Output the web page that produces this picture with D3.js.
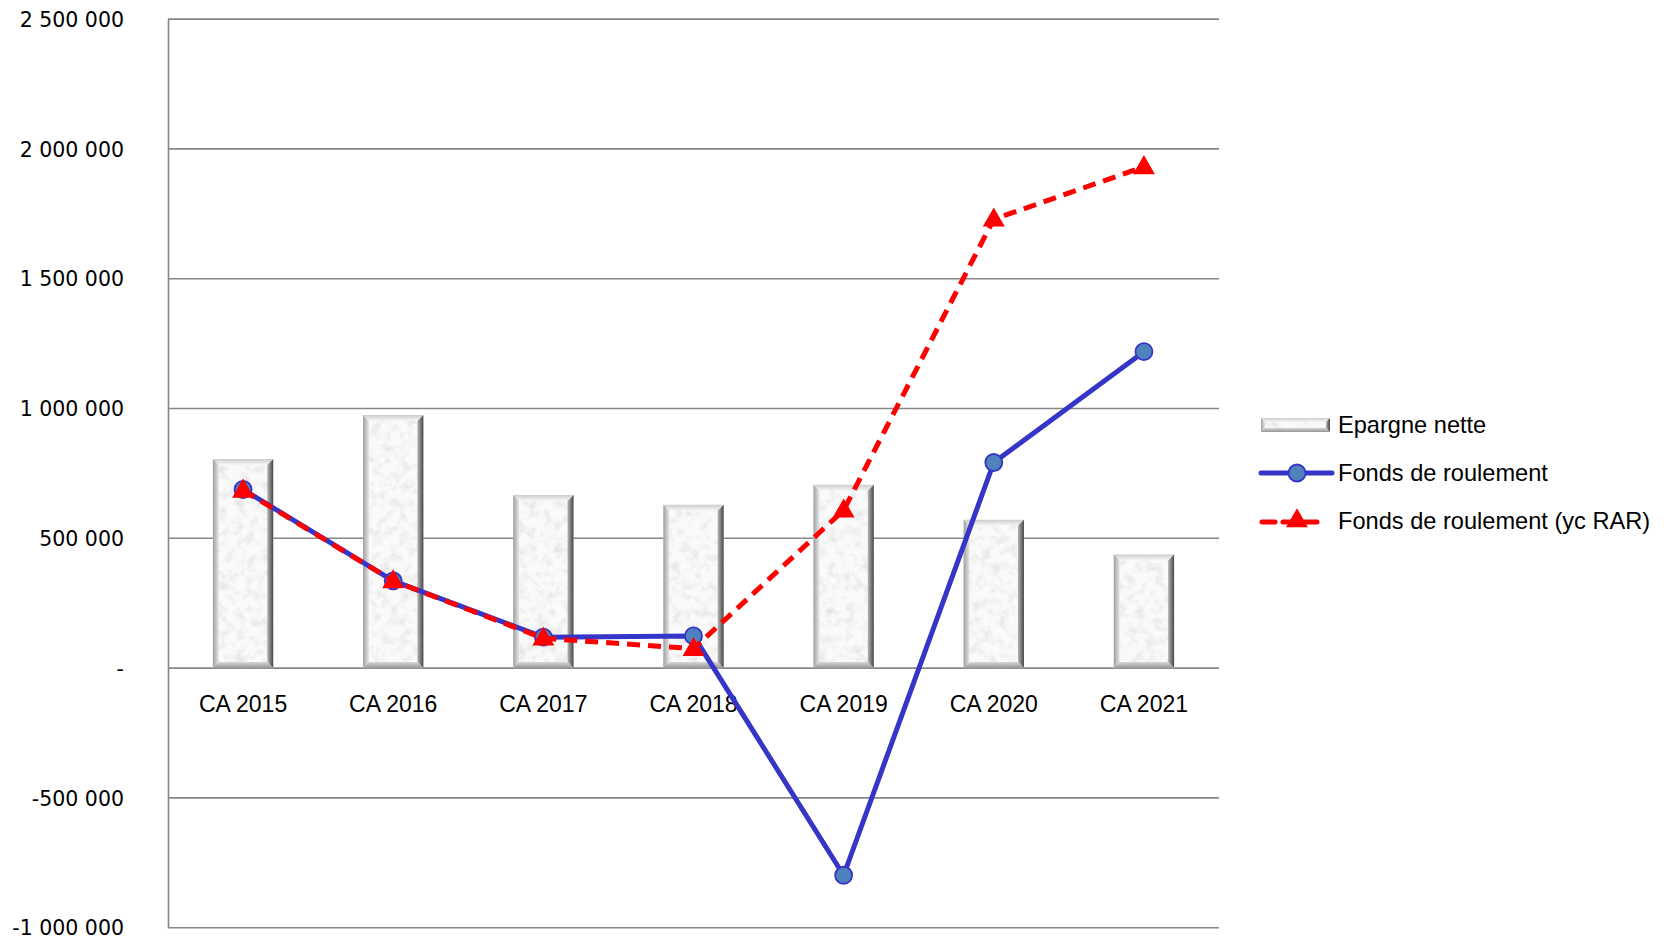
<!DOCTYPE html>
<html>
<head>
<meta charset="utf-8">
<script src="https://cdn.jsdelivr.net/npm/d3@7"></script>
<style>
  html, body { margin: 0; padding: 0; background: #ffffff; }
  svg { display: block; }
</style>
</head>
<body>
<svg id="chart" width="1666" height="940"></svg>
<script>
// ---- data ----
const categories = ["CA 2015", "CA 2016", "CA 2017", "CA 2018", "CA 2019", "CA 2020", "CA 2021"];
const epargneNette = [805000, 975000, 667000, 629000, 706000, 571000, 438000];
const fondsRoulement = [688000, 336000, 119000, 124000, -798000, 792000, 1219000];
const fondsRoulementRAR = [685000, 336000, 115000, 75000, 608000, 1729000, 1931000];
const yTicks = [-1000000, -500000, 0, 500000, 1000000, 1500000, 2000000, 2500000];
const seriesNames = ["Epargne nette", "Fonds de roulement", "Fonds de roulement (yc RAR)"];

// ---- layout ----
const svg = d3.select("#chart");
const plotL = 168, plotR = 1219, plotT = 19.1, plotB = 927.7;

const x = d3.scaleBand().domain(categories).range([plotL, plotR]).paddingInner(0.598).paddingOuter(0.299);
const y = d3.scaleLinear().domain([-1000000, 2500000]).range([plotB, plotT]);
const xc = c => x(c) + x.bandwidth() / 2;

// ---- defs ----
const defs = svg.append("defs");
const f = defs.append("filter").attr("id", "granite").attr("x", 0).attr("y", 0).attr("width", 1).attr("height", 1);
f.append("feTurbulence").attr("type", "fractalNoise").attr("baseFrequency", 0.11).attr("numOctaves", 3).attr("seed", 7).attr("result", "n");
f.append("feColorMatrix").attr("in", "n").attr("type", "matrix")
  .attr("values", "0 0 0 0 0.6  0 0 0 0 0.6  0 0 0 0 0.6  1.1 0 0 0 -0.48").attr("result", "g");
f.append("feComposite").attr("in", "g").attr("in2", "SourceGraphic").attr("operator", "atop");

function lg(id, x1, y1, x2, y2, stops) {
  const g = defs.append("linearGradient").attr("id", id)
    .attr("x1", x1).attr("y1", y1).attr("x2", x2).attr("y2", y2);
  stops.forEach(s => g.append("stop").attr("offset", s[0]).attr("stop-color", s[1]));
}
lg("bevL", 0, 0, 1, 0, [[0, "#8f8f8f"], [1, "#e6e6e6"]]);
lg("bevR", 0, 0, 1, 0, [[0, "#b0b0b0"], [1, "#333333"]]);
lg("bevT", 0, 0, 0, 1, [[0, "#c8c8c8"], [1, "#f8f8f8"]]);
lg("bevB", 0, 0, 0, 1, [[0, "#d0d0d0"], [1, "#858585"]]);

// ---- gridlines ----
svg.append("g").selectAll("line").data(yTicks).join("line")
  .attr("x1", plotL).attr("x2", plotR)
  .attr("y1", d => y(d)).attr("y2", d => y(d))
  .attr("stroke", "#878787").attr("stroke-width", 1.6);

// ---- y axis ----
const fmt = v => v === 0 ? "-" : d3.format(",")(v).replace(/,/g, " ").replace("\u2212", "-");
const yAxis = d3.axisLeft(y).tickValues(yTicks).tickFormat(fmt).tickSize(0).tickPadding(0);
const gy = svg.append("g").attr("transform", `translate(${plotL},0)`).call(yAxis);
gy.select(".domain").attr("stroke", "#878787").attr("stroke-width", 1.6);
gy.selectAll("text").attr("x", 124 - plotL).attr("dy", "0.35em")
  .attr("font-family", "DejaVu Sans").attr("font-size", 20.5).attr("fill", "#000");

// ---- bars ----
function bevelBar(g, bx, by, bw, bh, bev) {
  g.append("rect").attr("x", bx).attr("y", by).attr("width", bw).attr("height", bh)
    .attr("fill", "#fafafa").attr("filter", "url(#granite)");
  const x0 = bx, x1 = bx + bw, y0 = by, y1 = by + bh;
  g.append("polygon").attr("points", [[x0, y0], [x1, y0], [x1 - bev, y0 + bev], [x0 + bev, y0 + bev]].join(" "))
    .attr("fill", "url(#bevT)").attr("opacity", 0.9);
  g.append("polygon").attr("points", [[x0, y0], [x0 + bev, y0 + bev], [x0 + bev, y1 - bev], [x0, y1]].join(" "))
    .attr("fill", "url(#bevL)").attr("opacity", 0.85);
  g.append("polygon").attr("points", [[x1, y0], [x1, y1], [x1 - bev, y1 - bev], [x1 - bev, y0 + bev]].join(" "))
    .attr("fill", "url(#bevR)").attr("opacity", 0.9);
  g.append("polygon").attr("points", [[x0, y1], [x0 + bev, y1 - bev], [x1 - bev, y1 - bev], [x1, y1]].join(" "))
    .attr("fill", "url(#bevB)").attr("opacity", 0.85);
}
const barsG = svg.append("g");
categories.forEach((c, i) => {
  const v = epargneNette[i];
  const g = barsG.append("g");
  bevelBar(g, x(c), y(Math.max(v, 0)), x.bandwidth(), Math.abs(y(v) - y(0)), 6);
});

// ---- x labels ----
svg.append("g").selectAll("text").data(categories).join("text")
  .attr("x", d => xc(d)).attr("y", 711.5).attr("text-anchor", "middle")
  .attr("font-family", "Liberation Sans, Arial, sans-serif").attr("font-size", 23).attr("fill", "#000")
  .text(d => d);

// ---- lines ----
const line = d3.line().x((d, i) => xc(categories[i])).y(d => y(d));
const blue = "#3535c8", red = "#ff0000";
svg.append("path").datum(fondsRoulement).attr("d", line)
  .attr("fill", "none").attr("stroke", blue).attr("stroke-width", 5).attr("stroke-linejoin", "round");
svg.append("g").selectAll("circle").data(fondsRoulement).join("circle")
  .attr("cx", (d, i) => xc(categories[i])).attr("cy", d => y(d)).attr("r", 8.5)
  .attr("fill", "#4f81bd").attr("stroke", blue).attr("stroke-width", 1.8);

svg.append("path").datum(fondsRoulementRAR).attr("d", line)
  .attr("fill", "none").attr("stroke", red).attr("stroke-width", 5).attr("stroke-dasharray", "13 8");
const tri = d3.symbol().type(d3.symbolTriangle).size(210);
svg.append("g").selectAll("path").data(fondsRoulementRAR).join("path")
  .attr("transform", (d, i) => `translate(${xc(categories[i])},${y(d) + 1})`)
  .attr("d", tri).attr("fill", red);

// ---- legend ----
const lgG = svg.append("g");
bevelBar(lgG.append("g"), 1261, 418, 69, 14, 4);
lgG.append("line").attr("x1", 1261).attr("x2", 1332).attr("y1", 473).attr("y2", 473)
  .attr("stroke", blue).attr("stroke-width", 5).attr("stroke-linecap", "round");
lgG.append("circle").attr("cx", 1297).attr("cy", 473).attr("r", 8.5)
  .attr("fill", "#4f81bd").attr("stroke", blue).attr("stroke-width", 1.8);
lgG.append("line").attr("x1", 1262).attr("x2", 1322).attr("y1", 522).attr("y2", 522)
  .attr("stroke", red).attr("stroke-width", 5).attr("stroke-dasharray", "13 8").attr("stroke-linecap", "round");
lgG.append("path").attr("transform", "translate(1297,521)").attr("d", tri).attr("fill", red);
lgG.selectAll("text").data(seriesNames).join("text")
  .attr("x", 1338).attr("y", (d, i) => [425, 473, 521][i]).attr("dy", "0.35em")
  .attr("font-family", "Liberation Sans, Arial, sans-serif").attr("font-size", 23.6).attr("fill", "#000")
  .text(d => d);
</script>
</body>
</html>
